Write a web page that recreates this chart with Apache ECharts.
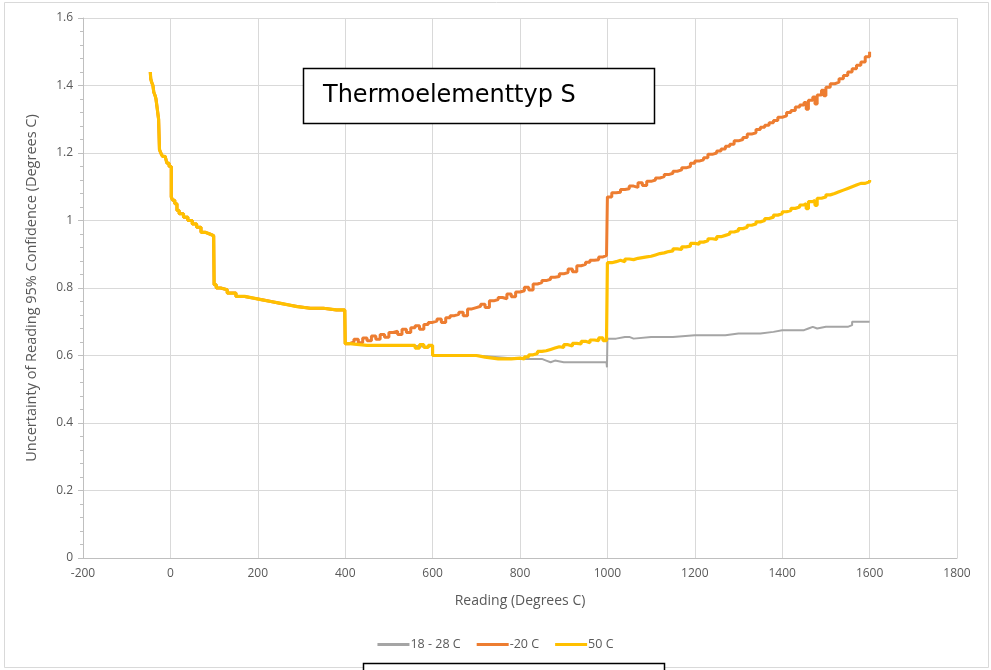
<!DOCTYPE html>
<html>
<head>
<meta charset="utf-8">
<script src="https://cdn.jsdelivr.net/npm/echarts@6/dist/echarts.min.js"></script>
<style>
html,body{margin:0;padding:0;background:#fff;}
#chart{width:991px;height:670px;}
</style>
</head>
<body>
<div id="chart"></div>
<script>
// Shared section (-46 .. 400 C): all three series coincide
const commonReadings = [-46,-45,-43,-40,-38,-35,-33,-30,-27,-25,-22,-18,-12,-8,-3,0,2,5,10,15,20,30,40,50,60,70,80,90,99,100,105,115,130,150,170,190,210,230,250,270,290,320,350,380,399,400];
const commonValues   = [1.44,1.42,1.41,1.40,1.38,1.37,1.36,1.33,1.30,1.21,1.20,1.19,1.19,1.17,1.16,1.16,1.07,1.06,1.05,1.03,1.02,1.01,1.00,0.99,0.98,0.965,0.96,0.955,0.95,0.81,0.80,0.795,0.785,0.775,0.77,0.765,0.76,0.755,0.75,0.745,0.74,0.74,0.735,0.735,0.73,0.635];

// 18 - 28 C tail
const greyReadings = [410,450,500,550,590,600,650,700,750,800,810,820,840,850,860,870,880,900,950,998,999,1000,1020,1040,1050,1060,1100,1150,1200,1250,1270,1300,1350,1380,1400,1450,1460,1470,1480,1500,1550,1560,1600];
const greyValues   = [0.63,0.63,0.63,0.625,0.63,0.60,0.60,0.595,0.59,0.59,0.59,0.59,0.59,0.585,0.58,0.585,0.58,0.58,0.58,0.575,0.565,0.65,0.655,0.655,0.65,0.655,0.655,0.66,0.66,0.66,0.665,0.665,0.67,0.675,0.675,0.68,0.685,0.68,0.685,0.685,0.69,0.70,0.70];

// -20 C tail
const orangeReadings = [410,420,430,440,450,460,470,480,490,500,510,520,530,540,550,560,570,580,590,600,610,620,630,640,650,660,670,680,690,700,710,720,730,740,750,760,770,780,790,800,810,820,830,840,850,860,870,880,890,900,910,920,930,940,950,960,970,980,990,998,1000,1010,1020,1030,1040,1050,1060,1070,1080,1090,1100,1110,1120,1130,1140,1150,1160,1170,1180,1190,1200,1210,1220,1230,1240,1250,1260,1270,1280,1290,1300,1310,1320,1330,1340,1350,1360,1370,1380,1390,1400,1410,1420,1430,1440,1450,1455,1460,1470,1475,1480,1490,1495,1500,1510,1520,1530,1540,1550,1560,1570,1580,1590,1600];
const orangeValues   = [0.64,0.648,0.638,0.652,0.644,0.658,0.648,0.662,0.654,0.668,0.672,0.662,0.678,0.668,0.682,0.688,0.678,0.692,0.698,0.702,0.708,0.698,0.712,0.718,0.722,0.728,0.718,0.738,0.742,0.746,0.752,0.742,0.762,0.766,0.772,0.768,0.782,0.774,0.788,0.792,0.802,0.794,0.812,0.816,0.822,0.826,0.832,0.834,0.842,0.846,0.856,0.848,0.866,0.87,0.876,0.882,0.884,0.892,0.896,0.90,1.07,1.082,1.084,1.092,1.094,1.102,1.098,1.112,1.104,1.116,1.12,1.126,1.13,1.136,1.14,1.146,1.15,1.156,1.16,1.17,1.176,1.18,1.186,1.196,1.20,1.206,1.212,1.22,1.226,1.236,1.24,1.246,1.256,1.26,1.27,1.276,1.282,1.29,1.296,1.306,1.31,1.32,1.326,1.336,1.342,1.35,1.33,1.356,1.366,1.345,1.372,1.386,1.37,1.395,1.405,1.41,1.42,1.43,1.44,1.45,1.46,1.47,1.485,1.50];

// 50 C tail
const yellowReadings = [410,450,500,550,560,570,580,590,600,650,700,720,750,780,800,810,820,830,840,850,860,870,880,890,900,910,920,930,940,950,960,970,980,990,998,1000,1010,1020,1030,1040,1050,1060,1070,1080,1090,1100,1110,1120,1130,1140,1150,1160,1170,1180,1190,1200,1210,1220,1230,1240,1250,1260,1270,1280,1290,1300,1310,1320,1330,1340,1350,1360,1370,1380,1390,1400,1410,1420,1430,1440,1450,1455,1460,1470,1475,1480,1490,1500,1510,1520,1530,1540,1550,1560,1570,1580,1590,1600];
const yellowValues   = [0.63,0.63,0.63,0.63,0.622,0.632,0.624,0.63,0.60,0.60,0.595,0.59,0.59,0.592,0.59,0.596,0.602,0.606,0.612,0.614,0.618,0.622,0.626,0.624,0.632,0.628,0.636,0.634,0.642,0.638,0.646,0.644,0.652,0.644,0.65,0.875,0.878,0.882,0.878,0.886,0.884,0.888,0.89,0.892,0.894,0.898,0.902,0.904,0.908,0.91,0.916,0.914,0.922,0.924,0.932,0.93,0.936,0.94,0.946,0.944,0.952,0.956,0.96,0.966,0.97,0.976,0.98,0.986,0.99,0.996,1.00,1.006,1.01,1.016,1.02,1.026,1.03,1.036,1.04,1.046,1.05,1.035,1.056,1.06,1.045,1.066,1.07,1.076,1.08,1.085,1.09,1.095,1.10,1.105,1.11,1.11,1.115,1.12];

const seriesNames = ['18 - 28 C', '-20 C', '50 C'];
const xTicks = {min: -200, max: 1800, interval: 200};
const yTicks = {min: 0, max: 1.6, interval: 0.2};

function zip(xs, ys) { return xs.map((x, i) => [x, ys[i]]); }
const greyData = zip(commonReadings.concat(greyReadings), commonValues.concat(greyValues));
const orangeData = zip(commonReadings.concat(orangeReadings), commonValues.concat(orangeValues));
const yellowData = zip(commonReadings.concat(yellowReadings), commonValues.concat(yellowValues));

const FONT = 'Open Sans';
const chart = echarts.init(document.getElementById('chart'), null, {renderer: 'canvas'});
chart.setOption({
  animation: false,
  backgroundColor: '#fff',
  grid: {left: 83, right: 34, top: 18, bottom: 112, containLabel: false},
  xAxis: {
    type: 'value', min: xTicks.min, max: xTicks.max, interval: xTicks.interval,
    name: 'Reading (Degrees C)', nameLocation: 'middle', nameGap: 36,
    nameTextStyle: {color: '#595959', fontSize: 14, fontFamily: FONT},
    axisLine: {show: true, onZero: false, lineStyle: {color: '#bfbfbf', width: 1}},
    axisTick: {show: false},
    axisLabel: {color: '#595959', fontSize: 12, fontFamily: FONT, margin: 10, formatter: v => String(v)},
    splitLine: {show: true, lineStyle: {color: '#d9d9d9', width: 1}}
  },
  yAxis: {
    type: 'value', min: yTicks.min, max: yTicks.max, interval: yTicks.interval,
    name: 'Uncertainty of Reading 95% Confidence (Degrees C)', nameLocation: 'middle', nameGap: 44,
    nameTextStyle: {color: '#595959', fontSize: 14.5, fontFamily: FONT},
    axisLine: {show: true, onZero: false, lineStyle: {color: '#bfbfbf', width: 1}},
    axisTick: {show: true, length: 5, lineStyle: {color: '#bfbfbf'}},
    minorTick: {show: true, splitNumber: 5, length: 3, lineStyle: {color: '#bfbfbf'}},
    axisLabel: {color: '#595959', fontSize: 12, fontFamily: FONT, margin: 10, formatter: v => String(v)},
    splitLine: {show: true, lineStyle: {color: '#d9d9d9', width: 1}}
  },
  legend: {
    bottom: 14, left: 'center',
    icon: 'rect', itemWidth: 32, itemHeight: 3, itemGap: 16,
    textStyle: {color: '#595959', fontSize: 12.5, fontFamily: FONT, padding: [0,0,0,-4]},
    data: seriesNames
  },
  series: [
    {name: seriesNames[0], type: 'line', step: 'end', data: greyData, showSymbol: false, symbol: 'none',
     lineStyle: {color: '#a5a5a5', width: 2}, itemStyle: {color: '#a5a5a5'}, z: 2},
    {name: seriesNames[1], type: 'line', step: 'end', data: orangeData, showSymbol: false, symbol: 'none',
     lineStyle: {color: '#ed7d31', width: 3}, itemStyle: {color: '#ed7d31'}, z: 3},
    {name: seriesNames[2], type: 'line', step: 'end', data: yellowData, showSymbol: false, symbol: 'none',
     lineStyle: {color: '#ffc000', width: 3.2}, itemStyle: {color: '#ffc000'}, z: 4}
  ],
  graphic: [
    {type: 'rect', shape: {x: 4.5, y: 2.5, width: 984, height: 665},
     style: {fill: 'none', stroke: '#d9d9d9', lineWidth: 1}, z: -10, silent: true},
    {type: 'rect', shape: {x: 303.5, y: 68.5, width: 351, height: 55},
     style: {fill: '#fff', stroke: '#000', lineWidth: 1.5}, z: 100},
    {type: 'text', x: 323, y: 96, z: 101,
     style: {text: 'Thermoelementtyp S', fill: '#000', font: '24px "DejaVu Sans"', textVerticalAlign: 'middle', verticalAlign: 'middle'}},
    {type: 'rect', shape: {x: 363.5, y: 663.5, width: 301, height: 20},
     style: {fill: '#fff', stroke: '#000', lineWidth: 1.5}, z: 100}
  ]
});
</script>
</body>
</html>
